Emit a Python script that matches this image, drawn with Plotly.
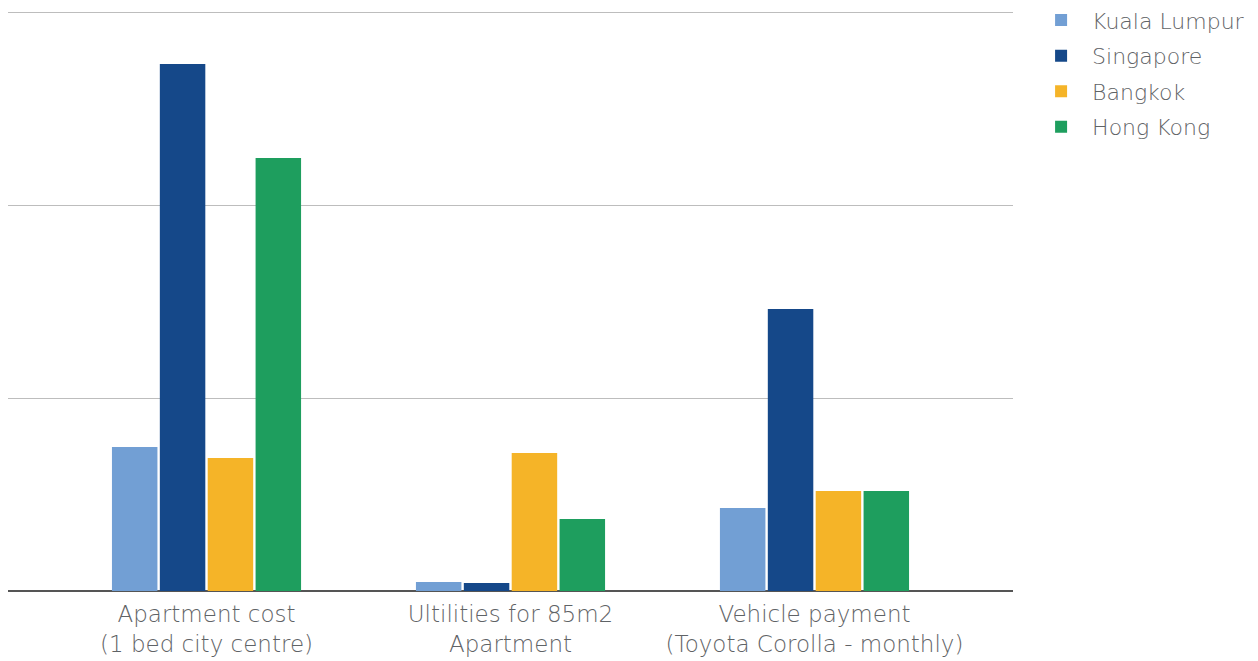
import plotly.graph_objects as go

categories = ["Apartment cost<br>(1 bed city centre)", "Ultilities for 85m2<br>Apartment", "Vehicle payment<br>(Toyota Corolla - monthly)"]
kuala_lumpur = [746, 47, 430]
singapore = [2731, 41, 1461]
bangkok = [689, 715, 518]
hong_kong = [2244, 373, 518]

series = [
    ("Kuala Lumpur", kuala_lumpur, "#729fd4"),
    ("Singapore", singapore, "#154889"),
    ("Bangkok", bangkok, "#f5b428"),
    ("Hong Kong", hong_kong, "#1e9e5e"),
]

fig = go.Figure()
for name, vals, col in series:
    fig.add_trace(go.Bar(x=[0, 1, 2], y=vals, name=name, legendgroup=name,
                         marker=dict(color=col, line=dict(width=0))))

fig.update_layout(
    width=1250, height=653,
    margin=dict(l=0, r=245, t=0, b=70, autoexpand=False),
    paper_bgcolor="white", plot_bgcolor="white",
    barmode="group", bargap=0.37, bargroupgap=0.05,
    font=dict(family="DejaVu Sans", size=23, color="#5f6366", weight=300),
    showlegend=True,
    legend=dict(x=1.017, y=1.015, xanchor="left", yanchor="top", traceorder="grouped",
                font=dict(size=22, color="#5f6366", weight=300), tracegroupgap=4, itemwidth=52),
    xaxis=dict(range=[-0.653, 2.653], tickmode="array", tickvals=[0, 1, 2], ticktext=categories,
               showgrid=False, zeroline=False, showline=False, ticks="", automargin=False,
               ticklabelstandoff=7),
    yaxis=dict(range=[0, 3020.7], tickvals=[1000, 2000, 3000], showticklabels=False, gridcolor="#bdbdbd", gridwidth=1,
               zeroline=True, zerolinecolor="#555555", zerolinewidth=2, showline=False, automargin=False),
)
fig.write_html("out.html")
